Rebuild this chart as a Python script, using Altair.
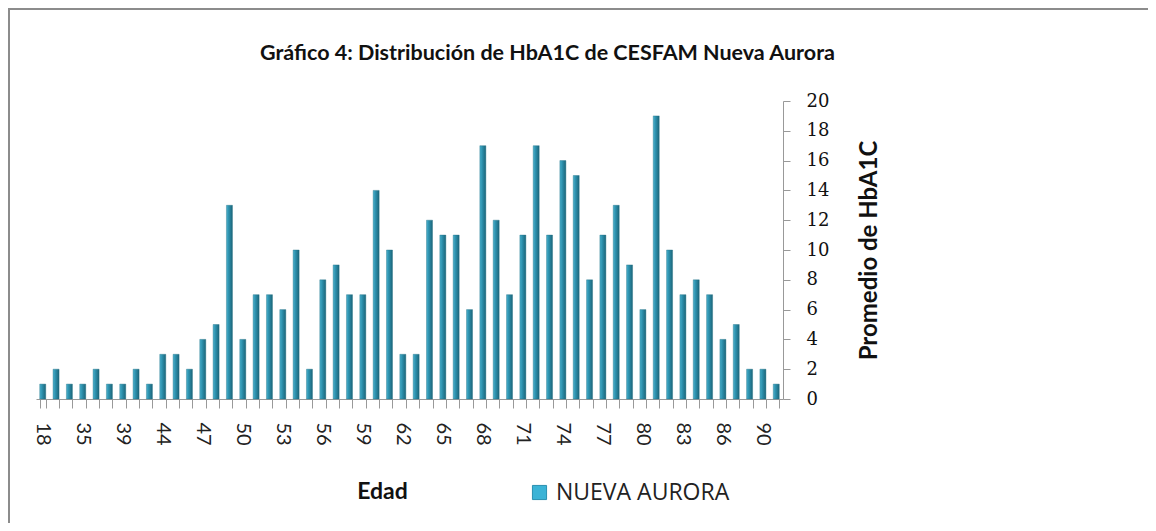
import altair as alt
import pandas as pd

edades = ["18", "25", "30", "35", "36", "38", "39", "40", "42", "44", "45", "46"] + \
         [str(a) for a in range(47, 87)] + ["87", "89", "90", "91"]
valores = [1, 2, 1, 1, 2, 1, 1, 2, 1, 3, 3, 2, 4, 5, 13, 4, 7, 7, 6, 10,
           2, 8, 9, 7, 7, 14, 10, 3, 3, 12, 11, 11, 6, 17, 12, 7, 11, 17, 11, 16,
           15, 8, 11, 13, 9, 6, 19, 10, 7, 8, 7, 4, 5, 2, 2, 1]
etiquetas = ["18", "35", "39", "44", "47", "50", "53", "56", "59", "62", "65",
             "68", "71", "74", "77", "80", "83", "86", "90"]
serie = "NUEVA AURORA"

df = pd.DataFrame({"Edad": edades, "Valor": valores, "Serie": [serie] * len(edades)})

label_list = "[" + ",".join("'" + e + "'" for e in etiquetas) + "]"

W, H = 747, 298
PL, PT = 28, 93

x_enc = alt.X("Edad:N", sort=edades, scale=alt.Scale(paddingInner=0.55, paddingOuter=0.28),
              axis=alt.Axis(title="Edad", labelAngle=90, tickBand="extent", tickSize=9,
                            labelExpr=f"indexof({label_list}, datum.label) >= 0 ? datum.label : ''",
                            labelFont="Lato", labelFontSize=20, labelColor="#222",
                            labelPadding=14, labelAlign="left", labelBaseline="middle",
                            domainColor="#999", tickColor="#999",
                            titleFont="Lato", titleFontSize=23, titleFontWeight="bold",
                            titleColor="#111", titleX=346, titleY=92, titleBaseline="middle",
                            titleAnchor="start", titleAlign="center"))
y_enc = alt.Y("Valor:Q", scale=alt.Scale(domain=[0, 20]),
              axis=alt.Axis(title="Promedio de HbA1C", orient="right", values=list(range(0, 21, 2)),
                            grid=False, tickSize=7, labelPadding=16, labelOverlap=False,
                            labelFont="DejaVu Serif", labelFontSize=18, labelColor="#111",
                            domainColor="#999", tickColor="#999",
                            titleFont="Lato", titleFontSize=24, titleFontWeight="bold",
                            titleColor="#111", titleAngle=270, titleX=86, titleY=H / 2,
                            titleBaseline="middle", titleAlign="center"))

grad = alt.Gradient(gradient="linear", x1=0, x2=1, y1=0, y2=0,
                    stops=[alt.GradientStop(offset=0, color="#4cb2ce"),
                           alt.GradientStop(offset=0.35, color="#2e93b0"),
                           alt.GradientStop(offset=1, color="#1c6579")])

bars = alt.Chart(df).mark_bar(fill=grad, stroke="#1f6e84", strokeWidth=0.4).encode(
    x=x_enc, y=y_enc)

legend_layer = alt.Chart(df).mark_square(opacity=0).encode(
    x=x_enc, y=y_enc,
    color=alt.Color("Serie:N", scale=alt.Scale(range=["#3BB3D6"]),
                    legend=alt.Legend(title=None, orient="none", legendX=492, legendY=380,
                                      symbolType="square", symbolSize=200, symbolOpacity=1,
                                      symbolFillColor="#3BB3D6", symbolStrokeColor="#2a8fb0",
                                      symbolStrokeWidth=1,
                                      labelFont="Open Sans", labelFontSize=23, labelColor="#222",
                                      labelLimit=0, padding=0, symbolOffset=0, labelOffset=5)),
)

frame = alt.Data(values=[{"k": 1}])
top_rule = alt.Chart(frame).mark_rule(color="#8c8c8c", strokeWidth=2).encode(
    x=alt.value(-PL), x2=alt.value(1140), y=alt.value(-PT + 1))
left_rule = alt.Chart(frame).mark_rule(color="#8c8c8c", strokeWidth=2).encode(
    x=alt.value(-PL + 1), y=alt.value(-PT), y2=alt.value(520))

chart = alt.layer(bars, legend_layer, top_rule, left_rule).properties(
    width=W, height=H,
    title=alt.TitleParams("Gráfico 4: Distribución de HbA1C  de CESFAM Nueva Aurora",
                          font="Lato", fontSize=21.5, fontWeight="bold", color="#111",
                          anchor="middle", frame="group", dx=138, offset=-74,
                          baseline="alphabetic"),
    padding={"left": PL, "top": PT, "right": 1140 - PL - W, "bottom": 515 - PT - H},
    autosize=alt.AutoSizeParams(type="none"),
    background="white",
).configure_view(stroke=None)

chart.save("out.html", embed_options={"renderer": "svg", "actions": False})
